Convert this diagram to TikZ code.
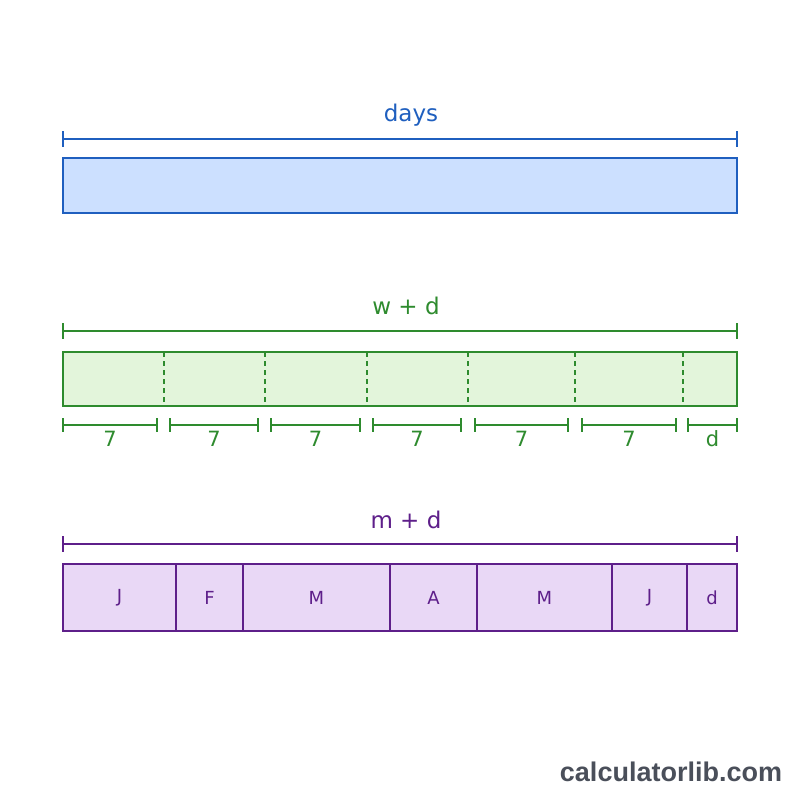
\documentclass[tikz,border=0pt]{standalone}
\usepackage{fontspec}
\setmainfont{DejaVu Sans}
\newfontfamily\wmfont{Liberation Sans}
\definecolor{bstroke}{HTML}{1F5FBF}
\definecolor{bfill}{HTML}{CCE0FF}
\definecolor{gstroke}{HTML}{2E8B2E}
\definecolor{gfill}{HTML}{E3F5DB}
\definecolor{pstroke}{HTML}{5E1F8A}
\definecolor{pfill}{HTML}{E9D8F6}
\definecolor{wmgray}{HTML}{4A4F5A}
\tikzset{
  lbl/.style={inner sep=0pt, font=\fontsize{23}{27}\selectfont},
  small/.style={inner sep=0pt, font=\fontsize{21}{25}\selectfont},
  cell/.style={inner sep=0pt, font=\fontsize{18}{21}\selectfont},
  bar/.style={line width=1.4pt},
  brk/.style={line width=1.4pt},
}
\begin{document}
\begin{tikzpicture}[x=1pt,y=-1pt]
\useasboundingbox (0,0) rectangle (800,800);
\fill[white] (0,0) rectangle (800,800);
% ---- days ----
\node[lbl, text=bstroke] (tdays) at (411,115) {days};
\draw[brk, bstroke] (63,139) -- (737,139);
\draw[brk, bstroke] (63,131) -- (63,147);
\draw[brk, bstroke] (737,131) -- (737,147);
\draw[bar, bstroke, fill=bfill] (63,158) rectangle (737,213);
% ---- weeks ----
\node[lbl, text=gstroke] (twd) at (406,306) {w + d};
\draw[brk, gstroke] (63,331) -- (737,331);
\draw[brk, gstroke] (63,323) -- (63,339);
\draw[brk, gstroke] (737,323) -- (737,339);
\draw[bar, gstroke, fill=gfill] (63,352) rectangle (737,406);
\foreach \x in {164,265,367,468,575,683}
  \draw[gstroke, line width=1.2pt, dash pattern=on 5pt off 4pt] (\x,352) -- (\x,406);
\foreach \a/\b/\t/\n in {63/157/7/w1, 170/258/7/w2, 271/360/7/w3, 373/461/7/w4, 475/568/7/w5, 582/676/7/w6, 688/737/d/w7}{
  \draw[brk, gstroke] (\a,425) -- (\b,425);
  \draw[brk, gstroke] (\a,418) -- (\a,432);
  \draw[brk, gstroke] (\b,418) -- (\b,432);
  \node[small, text=gstroke] (\n) at ({(\a+\b)/2},439) {\t};
}
% ---- months ----
\node[lbl, text=pstroke] (tmd) at (406,520) {m + d};
\draw[brk, pstroke] (63,544) -- (737,544);
\draw[brk, pstroke] (63,536) -- (63,552);
\draw[brk, pstroke] (737,536) -- (737,552);
\foreach \a/\b/\t/\n in {63/176/J/m1, 176/243/F/m2, 243/390/M/m3, 390/477/A/m4, 477/612/M/m5, 612/687/J/m6, 687/737/d/m7}{
  \draw[bar, pstroke, fill=pfill] (\a,564) rectangle (\b,631);
  \node[cell, text=pstroke] (\n) at ({(\a+\b)/2},598) {\t};
}
% ---- watermark ----
\node[inner sep=0pt, text=wmgray, font=\wmfont\bfseries\fontsize{27}{31}\selectfont] (wm) at (671,772) {calculatorlib.com};
\end{tikzpicture}
\end{document}
